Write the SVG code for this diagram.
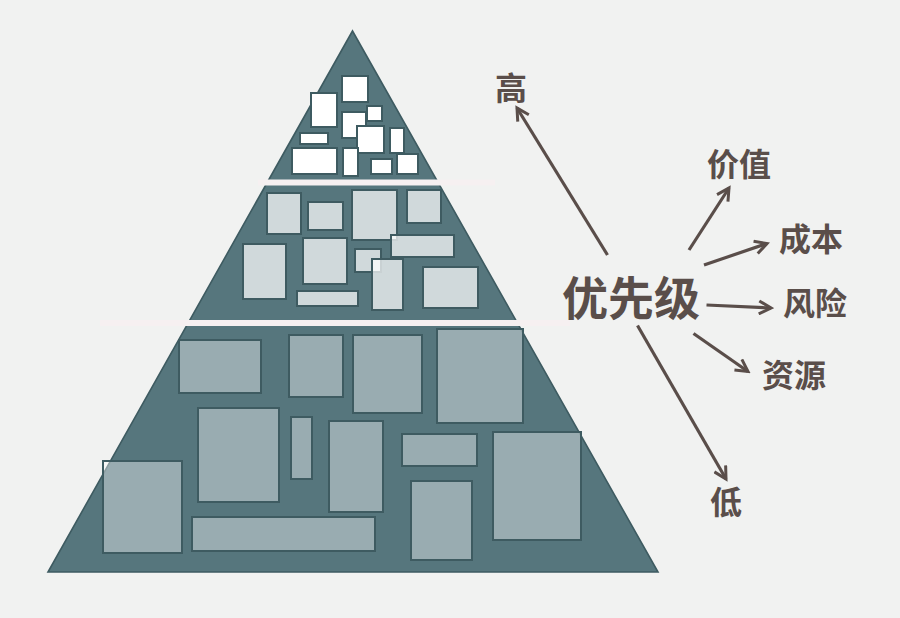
<svg xmlns="http://www.w3.org/2000/svg" width="900" height="618" viewBox="0 0 900 618">
<style>
.tri{fill:#56767d;stroke:#3e5b61;stroke-width:1.6;stroke-linejoin:miter}
.r{stroke:#3e5b61;stroke-width:2}
.t1 rect{fill:#ffffff}
.t2 rect{fill:#ffffff;fill-opacity:0.72}
.t3 rect{fill:#ffffff;fill-opacity:0.4}
.band{fill:#f6f0f1}
.lbl{font-family:"Noto Sans CJK SC","Noto Sans",sans-serif;font-weight:bold;fill:#5a4e4a;text-anchor:middle}
.arr{stroke:#5a4e4a;stroke-width:3.2;fill:none;marker-end:url(#ah)}
</style>
<defs>
<marker id="ah" viewBox="0 0 16 16" refX="13" refY="8" markerWidth="16" markerHeight="16" markerUnits="userSpaceOnUse" orient="auto">
<path d="M1,1.5 L13,8 L1,14.5" fill="none" stroke="#5a4e4a" stroke-width="3"/>
</marker>
</defs>
<rect width="900" height="618" fill="#f1f2f1"/>
<g id="pyramid">
<polygon class="tri" points="352.5,31 48,572 658,572"/>
<g id="tier-top" class="t1">
<rect class="r" x="342" y="76" width="26" height="26"/>
<rect class="r" x="311" y="93" width="26" height="34"/>
<rect class="r" x="367" y="106" width="15" height="15"/>
<rect class="r" x="342" y="112" width="24" height="26"/>
<rect class="r" x="357" y="126" width="27" height="27"/>
<rect class="r" x="390" y="128" width="14" height="25"/>
<rect class="r" x="300" y="133" width="28" height="11"/>
<rect class="r" x="292" y="148" width="45" height="26"/>
<rect class="r" x="343" y="148" width="15" height="28"/>
<rect class="r" x="371" y="159" width="21" height="15"/>
<rect class="r" x="397" y="154" width="21" height="20"/>
</g>
<g id="tier-middle" class="t2">
<rect class="r" x="267" y="193" width="34" height="41"/>
<rect class="r" x="308" y="202" width="35" height="28"/>
<rect class="r" x="352" y="190" width="45" height="50"/>
<rect class="r" x="407" y="190" width="34" height="33"/>
<rect class="r" x="243" y="244" width="43" height="55"/>
<rect class="r" x="303" y="238" width="44" height="46"/>
<rect class="r" x="355" y="249" width="26" height="23"/>
<rect class="r" x="391" y="235" width="63" height="22"/>
<rect class="r" x="372" y="259" width="31" height="51"/>
<rect class="r" x="423" y="267" width="55" height="41"/>
<rect class="r" x="297" y="291" width="61" height="15"/>
</g>
<g id="tier-bottom" class="t3">
<rect class="r" x="179" y="340" width="82" height="53"/>
<rect class="r" x="289" y="335" width="54" height="62"/>
<rect class="r" x="353" y="335" width="69" height="78"/>
<rect class="r" x="437" y="329" width="86" height="94"/>
<rect class="r" x="198" y="408" width="81" height="94"/>
<rect class="r" x="291" y="417" width="21" height="62"/>
<rect class="r" x="329" y="421" width="54" height="91"/>
<rect class="r" x="402" y="434" width="75" height="32"/>
<rect class="r" x="493" y="432" width="88" height="108"/>
<rect class="r" x="103" y="461" width="79" height="92"/>
<rect class="r" x="192" y="517" width="183" height="34"/>
<rect class="r" x="411" y="481" width="61" height="79"/>
</g>
<rect class="band" x="258" y="179.5" width="237" height="6"/>
<rect class="band" x="100" y="320" width="470" height="6"/>
</g>
<g id="connectors">
<line class="arr" x1="607.5" y1="255" x2="517" y2="108"/>
<line class="arr" x1="689" y1="250" x2="729" y2="188"/>
<line class="arr" x1="704" y1="265" x2="767" y2="243.5"/>
<line class="arr" x1="706.5" y1="305" x2="771" y2="308"/>
<line class="arr" x1="693.5" y1="333.5" x2="748" y2="371.5"/>
<line class="arr" x1="637.5" y1="325.5" x2="726" y2="479"/>
</g>
<g id="node-priority"><text class="lbl" x="631" y="315" font-size="46">优先级</text></g>
<g id="node-high"><text class="lbl" x="511" y="100" font-size="32">高</text></g>
<g id="node-value"><text class="lbl" x="739" y="176" font-size="32">价值</text></g>
<g id="node-cost"><text class="lbl" x="811" y="251" font-size="32">成本</text></g>
<g id="node-risk"><text class="lbl" x="815" y="315" font-size="32">风险</text></g>
<g id="node-resource"><text class="lbl" x="794" y="387" font-size="32">资源</text></g>
<g id="node-low"><text class="lbl" x="726" y="514" font-size="32">低</text></g>
</svg>
